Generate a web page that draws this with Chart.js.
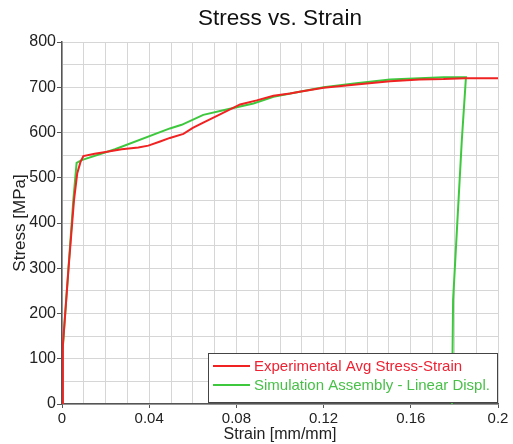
<!DOCTYPE html>
<html>
<head>
<meta charset="utf-8">
<script src="https://cdn.jsdelivr.net/npm/chart.js@4/dist/chart.umd.min.js"></script>
<style>
  html, body { margin: 0; padding: 0; background: #fff; }
  #wrap { position: relative; width: 513px; height: 444px; }
</style>
</head>
<body>
<div id="wrap"><canvas id="chart" width="513" height="444"></canvas></div>
<script>
// Experimental curve (red)
var expStrain = [0, 0.0004, 0.003, 0.0055, 0.007, 0.0085, 0.0098, 0.015, 0.02, 0.0274, 0.035, 0.0396,
  0.045, 0.0495, 0.0557, 0.06, 0.0648, 0.0725, 0.0817, 0.0893, 0.097, 0.1046, 0.109, 0.12, 0.135,
  0.1505, 0.164, 0.175, 0.185, 0.2];
var expStress = [0, 130, 300, 450, 510, 535, 548, 553, 557, 563, 567, 571,
  580, 588, 597, 610, 622, 640, 662, 671, 681, 686, 690, 699, 706,
  713, 717, 718, 720, 720];

// Simulation curve (green)
var simStrain = [0, 0.0003, 0.0029, 0.0052, 0.0067, 0.009, 0.0243, 0.0495, 0.0549, 0.0648, 0.0755,
  0.0878, 0.097, 0.109, 0.12, 0.135, 0.1505, 0.164, 0.175, 0.1853, 0.1834, 0.1794, 0.1789];
var simStress = [0, 120, 296, 451, 533, 539, 563, 609, 617, 639, 651,
  664, 679, 690, 700, 709, 717, 720, 722, 722, 583, 230, 0];

var seriesNames = ['Experimental Avg Stress-Strain', 'Simulation Assembly - Linear Displ.'];
var seriesColors = ['#f02222', '#3ec83e'];
var legendTextColors = ['#ee2233', '#48c048'];

var xMajor = 0.04, xMinor = 0.01;
var yMajor = 100, yMinor = 50;

function pts(xs, ys) {
  return xs.map(function(x, i) { return { x: x, y: ys[i] }; });
}

var FONT = "'Liberation Sans', Arial, sans-serif";

// Title centered on the plot area + legend box inside the plot
var decorations = {
  id: 'decorations',
  afterDraw: function(chart) {
    var ctx = chart.ctx, a = chart.chartArea;
    ctx.save();
    ctx.fillStyle = '#111';
    ctx.font = '22.5px ' + FONT;
    ctx.textAlign = 'center';
    ctx.textBaseline = 'middle';
    ctx.fillText('Stress vs. Strain', (a.left + a.right) / 2, 19);

    var w = 289, h = 49;
    var x = a.right - w - 1, y = a.bottom - h - 2;
    ctx.fillStyle = '#fff';
    ctx.fillRect(x, y, w, h);
    ctx.strokeStyle = '#444';
    ctx.lineWidth = 1;
    ctx.strokeRect(x + 0.5, y + 0.5, w, h);
    ctx.font = '15px ' + FONT;
    ctx.textAlign = 'left';
    seriesNames.forEach(function(name, i) {
      var ly = y + 13 + i * 19;
      ctx.strokeStyle = seriesColors[i];
      ctx.lineWidth = 2;
      ctx.beginPath();
      ctx.moveTo(x + 5, ly);
      ctx.lineTo(x + 42, ly);
      ctx.stroke();
      ctx.fillStyle = legendTextColors[i];
      ctx.fillText(name, x + 46, ly + 1);
    });
    ctx.restore();
  }
};

new Chart(document.getElementById('chart').getContext('2d'), {
  type: 'scatter',
  data: {
    datasets: [
      { label: seriesNames[0], data: pts(expStrain, expStress), borderColor: seriesColors[0],
        backgroundColor: seriesColors[0], showLine: true, pointRadius: 0, borderWidth: 2, tension: 0 },
      { label: seriesNames[1], data: pts(simStrain, simStress), borderColor: seriesColors[1],
        backgroundColor: seriesColors[1], showLine: true, pointRadius: 0, borderWidth: 2, tension: 0 }
    ]
  },
  options: {
    responsive: false,
    animation: false,
    layout: { padding: { top: 42, right: 15, left: 0, bottom: 0 } },
    plugins: {
      legend: { display: false },
      title: { display: false },
      tooltip: { enabled: false }
    },
    scales: {
      x: {
        type: 'linear',
        min: 0, max: 0.2,
        afterFit: function(s) { s.height = 40; },
        border: { display: true, color: '#555', width: 1.5 },
        grid: {
          color: '#d6d6d6',
          tickLength: 4,
          tickColor: function(c) {
            return Math.round(c.tick.value / xMinor) % Math.round(xMajor / xMinor) === 0 ? '#555' : 'rgba(0,0,0,0)';
          }
        },
        ticks: {
          stepSize: xMinor,
          autoSkip: false,
          maxRotation: 0,
          padding: 2,
          color: '#222',
          font: { family: FONT, size: 15 },
          callback: function(v) {
            var n = Math.round(v / xMinor);
            if (n % Math.round(xMajor / xMinor) !== 0) return '';
            return String(parseFloat(v.toFixed(2)));
          }
        },
        title: {
          display: true, text: 'Strain [mm/mm]', color: '#222',
          font: { family: FONT, size: 16 }, padding: { top: 0, bottom: 0 }
        }
      },
      y: {
        min: 0, max: 800,
        afterFit: function(s) { s.width = 62; },
        border: { display: true, color: '#555', width: 1.5 },
        grid: {
          color: '#d6d6d6',
          tickLength: 5,
          tickColor: function(c) {
            return c.tick.value % yMajor === 0 ? '#555' : 'rgba(0,0,0,0)';
          }
        },
        ticks: {
          stepSize: yMinor,
          autoSkip: false,
          padding: 1,
          color: '#222',
          font: { family: FONT, size: 16 },
          callback: function(v) { return v % yMajor === 0 ? String(v) : ''; }
        },
        title: {
          display: true, text: 'Stress [MPa]', color: '#222',
          font: { family: FONT, size: 17 }, padding: { top: 10, bottom: 0 }
        }
      }
    }
  },
  plugins: [decorations]
});
</script>
</body>
</html>
